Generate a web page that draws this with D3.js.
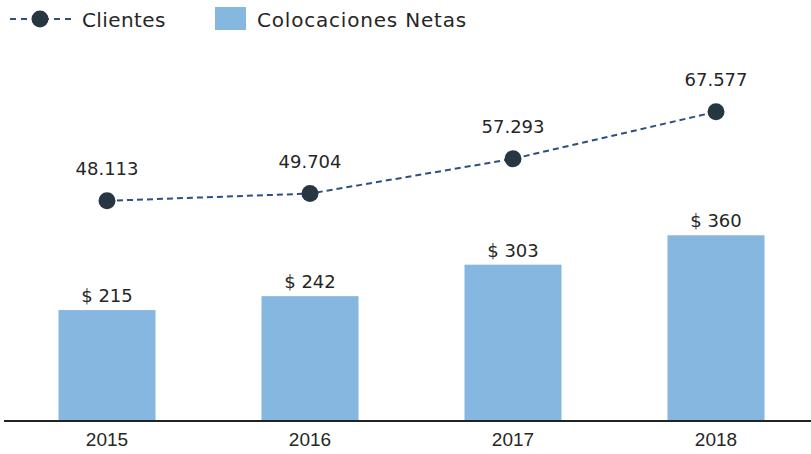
<!DOCTYPE html>
<html><head><meta charset="utf-8">
<script src="https://cdn.jsdelivr.net/npm/d3@7"></script>
<style>body{margin:0;background:#fff}svg{display:block}</style>
</head><body>
<svg id="c" width="811" height="454"></svg>
<script>
const categories = ["2015","2016","2017","2018"];
const colocaciones = [215,242,303,360];
const clientes = [48113,49704,57293,67577];
const clientesLabels = ["48.113","49.704","57.293","67.577"];
const barLabels = ["$ 215","$ 242","$ 303","$ 360"];

const svg = d3.select("#c");
const baseY = 421;
const font = "'DejaVu Sans', sans-serif";
const x = d3.scaleBand().domain(categories).range([5.5, 817.5]).paddingInner(0.522).paddingOuter(0.261);
const yBar = d3.scaleLinear().domain([0, 816]).range([baseY, 0]);
const yLine = d3.scaleLinear().domain([0, 92000]).range([baseY, 0]);
const barColor = "#85b7e1", lineColor = "#2d5082", dotColor = "#273741", textColor = "#262626";

svg.selectAll("rect.bar").data(categories).enter().append("rect")
  .attr("x", d => x(d)).attr("width", x.bandwidth())
  .attr("y", (d,i) => yBar(colocaciones[i])).attr("height", (d,i) => baseY - yBar(colocaciones[i]))
  .attr("fill", barColor);

svg.selectAll("text.bl").data(categories).enter().append("text")
  .attr("x", d => x(d) + x.bandwidth()/2).attr("y", (d,i) => yBar(colocaciones[i]) - 8)
  .attr("text-anchor","middle").attr("font-family", font).attr("font-size", 18).attr("fill", textColor)
  .text((d,i) => barLabels[i]);

const line = d3.line().x((d,i) => x(categories[i]) + x.bandwidth()/2).y(d => yLine(d));
svg.append("path").datum(clientes).attr("d", line).attr("fill","none")
  .attr("stroke", lineColor).attr("stroke-width", 2).attr("stroke-dasharray","6,4");
svg.selectAll("circle.pt").data(clientes).enter().append("circle")
  .attr("cx", (d,i) => x(categories[i]) + x.bandwidth()/2).attr("cy", d => yLine(d))
  .attr("r", 8.5).attr("fill", dotColor);
svg.selectAll("text.ll").data(clientes).enter().append("text")
  .attr("x", (d,i) => x(categories[i]) + x.bandwidth()/2).attr("y", d => yLine(d) - 26)
  .attr("text-anchor","middle").attr("font-family", font).attr("font-size", 18).attr("fill", textColor)
  .text((d,i) => clientesLabels[i]);

// axis
const axis = svg.append("g").attr("transform", `translate(0,${baseY})`)
  .call(d3.axisBottom(x).tickSize(0).tickPadding(12));
axis.select(".domain").attr("d", "M4,0H811").attr("stroke", "#222").attr("stroke-width", 2);
axis.selectAll("text").attr("font-family", "'Liberation Sans Narrow', 'Liberation Sans', sans-serif")
  .attr("font-size", 19).attr("fill", textColor);

// legend
const lg = svg.append("g");
lg.append("line").attr("x1", 10).attr("x2", 71).attr("y1", 19).attr("y2", 19)
  .attr("stroke", lineColor).attr("stroke-width", 2).attr("stroke-dasharray","6,5");
lg.append("circle").attr("cx", 40).attr("cy", 19).attr("r", 8.5).attr("fill", dotColor);
lg.append("text").attr("x", 82).attr("y", 26.5).attr("font-family", font).attr("font-size", 20)
  .attr("letter-spacing", 0.4).attr("fill", textColor).text("Clientes");
lg.append("rect").attr("x", 215).attr("y", 7).attr("width", 31).attr("height", 23).attr("fill", barColor);
lg.append("text").attr("x", 257).attr("y", 26.5).attr("font-family", font).attr("font-size", 20)
  .attr("letter-spacing", 0.8).attr("fill", textColor).text("Colocaciones Netas");
</script>
</body></html>
